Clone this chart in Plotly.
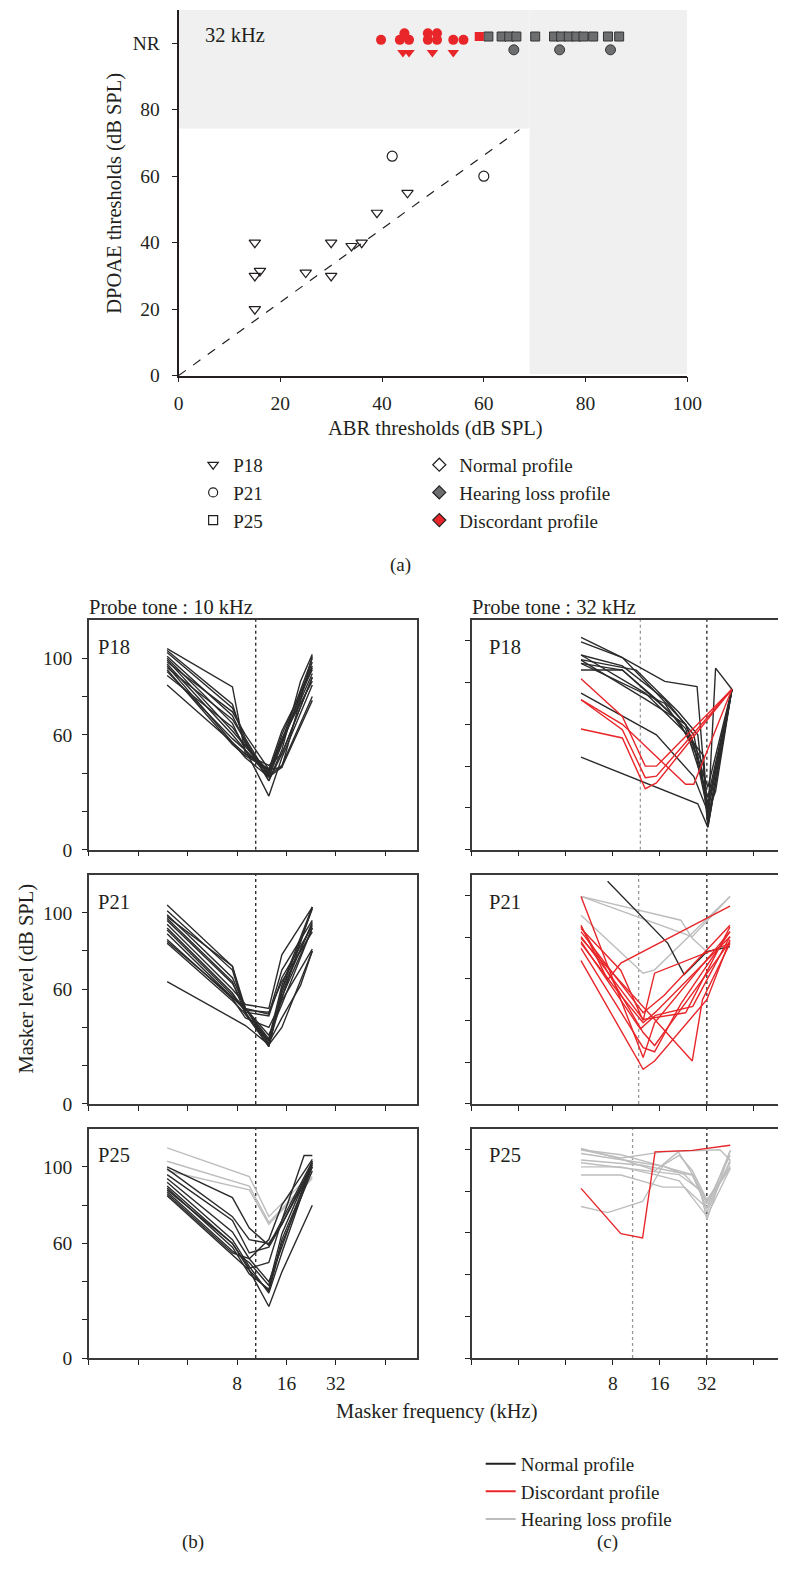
import plotly.graph_objects as go

W, H = 793, 1569
FONT = "Liberation Serif"
BLACK = "#231f20"
RED = "#e8262a"
HL_FILL = "#6d6e70"
HL_LINE = "#bdbdbd"
SHADE = "#eff0ef"

# ---------------- (a) DPOAE vs ABR thresholds at 32 kHz ----------------
A_XTICKS = [0, 20, 40, 60, 80, 100]
A_YTICKS = [0, 20, 40, 60, 80, 100]
A_YTICKTEXT = ["0", "20", "40", "60", "80", "NR"]

p18_normal_abr = [15, 15, 16, 15, 25, 30, 30, 34, 36, 39, 45]
p18_normal_dpoae = [40, 30, 31.5, 20, 31, 40, 30, 39, 40, 49, 55]
p21_normal_abr = [42, 60]
p21_normal_dpoae = [66, 60]

p21_disc_abr = [39.8, 43.5, 45.3, 49.0, 50.8, 54.0, 56.0, 44.4, 49.0, 50.8]
p21_disc_dpoae = [101, 101, 101, 101, 101, 101, 101, 103, 103, 103]
p18_disc_abr = [44.1, 45.3, 49.9, 54.0]
p18_disc_dpoae = [97.2, 97.2, 97.2, 97.2]
p25_disc_abr = [59.1]
p25_disc_dpoae = [102]
p25_hl_abr = [60.9, 63.5, 65.0, 66.4, 70.1, 73.8, 75.2, 76.7, 78.2, 79.6, 81.5, 84.4, 86.6]
p25_hl_dpoae = [102, 102, 102, 102, 102, 102, 102, 102, 102, 102, 102, 102, 102]
p21_hl_abr = [65.9, 74.9, 84.9]
p21_hl_dpoae = [98, 98, 98]

diag_abr = [0, 67]
diag_dpoae = [0, 74]
normal_zone_abr_max = 69
normal_zone_dpoae_max = 74.3
a_xmax, a_ymax = 100, 110

# ---------------- (b)/(c) masking tuning curves ----------------
F_TICKS = [1, 2, 4, 8, 16, 32, 64]
F_TICKTEXT = ["", "", "", "8", "16", "32", ""]
L_TICKS = [0, 20, 40, 60, 80, 100]
L_TICKTEXT_B = ["0", "", "", "60", "", "100"]
B_YMAX, C_YMAX = 120, 110

probe_b = 10.4
probe_c = 32
ref_c = [12, 11.7, 10.7]

# Panel (b) masker frequencies (kHz)
F_B = [3, 7.5, 9, 12.5, 15, 19.5, 23]
F_B25 = [3, 7.5, 9.5, 12.5, 15, 20.5, 23]

b_p18 = [
    [105, 85, 50, 42, 43, None, 101],
    [104, 76, 55, 40, 57, None, 100],
    [103, 74, 58, 38, 55, None, 98],
    [101, 70, 56, 36, 52, 88, 102],
    [100, 66, 52, 40, 60, None, 96],
    [99, 62, 54, 41, 56, None, 95],
    [97, 60, 52, 38, 56, None, 92],
    [96, 56, 50, 44, 50, None, 90],
    [94, 55, 49, 42, 58, None, 88],
    [93, 58, 52, 28, 48, None, 86],
    [91, 64, 54, 39, 44, None, 80],
    [86, 56, 48, 38, 43, None, 78],
    [98, 72, 60, 42, 62, None, 94],
    [95, 68, 57, 36, 50, None, 90],
]
b_p18_prof = ["N"] * 14

b_p21 = [
    [104, 72, 50, 31, 55, None, 103],
    [101, 70, 48, 30, 60, None, 102],
    [99, 66, 50, 34, 62, None, 103],
    [97, 64, 47, 33, 58, None, 95],
    [96, 63, 50, 47, 70, None, 96],
    [94, 60, 52, 50, 78, None, 103],
    [92, 58, 48, 46, 66, None, 93],
    [91, 57, 50, 36, 52, None, 92],
    [89, 56, 49, 48, 64, None, 90],
    [86, 55, 45, 40, 54, None, 81],
    [84, 54, 47, 32, 45, 62, 80],
    [64, None, 41, 31, 40, None, 80],
    [85, 56, 50, 33, 56, None, 92],
    [98, 72, 47, 30, 60, None, 94],
]
b_p21_prof = ["N"] * 14

b_p25 = [
    [110, None, 95, 74, None, None, 97],
    [103, None, 90, 71, None, None, 95],
    [98, None, 88, 70, None, None, 94],
    [100, 84, 68, 59, 72, None, 103],
    [99, 74, 62, 60, 70, None, 102],
    [96, 72, 55, 58, 70, None, 100],
    [94, 66, 52, 40, 58, None, 103],
    [92, 62, 48, 34, 55, None, 101],
    [90, 60, 46, 27, 45, None, 80],
    [89, 58, 44, 36, 62, None, 100],
    [87, 56, 50, 38, 65, None, 102],
    [86, 55, 52, 62, 80, None, 104],
    [85, 54, 46, 35, 60, None, 98],
    [88, 60, 47, 50, 72, 106, 106],
]
b_p25_prof = ["H", "H", "H"] + ["N"] * 11

# Panel (c): per-curve masker frequencies (kHz) and levels (dB SPL)
c_p18_freq = [
    [5, 9.2, 15.2, 23.4, 30.5, 32.5, 46.3],
    [5, 9.2, 17.2, 27.7, 32.5, 36.4, 46.3],
    [5, 9.2, 17.2, 26.4, 32.5, 46.3],
    [5, 11.3, 21, 28, 32.5, 46.3],
    [5, 9.2, 15.2, 23.4, 32.5, 46.3],
    [5, 9.2, 21, 27.7, 32.5, 46.3],
    [5, 12.9, 23.4, 30.5, 32.5, 46.3],
    [5, 15.2, 26.4, 32.5, 46.3],
    [5, 28, 32.5, 46.3],
    [5, 13, 23.4, 32.5, 46.3],
    [5, 17.2, 26.4, 32.5, 36.4, 46.3],
    [5, 9.2, 12.9, 15.2, 46.3],
    [5, 9.2, 12.9, 15.2, 46.3],
    [5, 9.2, 12.9, 15.2, 46.3],
    [5, 9.2, 23.4, 26.4, 46.3],
]
c_p18_level = [
    [101.6, 92, 75, 60, 40, 11, 76.8],
    [99.5, 92, 80.6, 78.1, 15, 86.9, 76.8],
    [93.2, 88, 72, 55, 20, 76.8],
    [91, 86, 66, 55, 12, 76.8],
    [89.2, 86, 72, 58, 25, 76.8],
    [86, 86, 62, 45, 22, 76.8],
    [93.2, 75, 56, 45, 14, 76.8],
    [75, 55, 35, 18, 76.8],
    [44.3, 22, 10.7, 76.8],
    [90.8, 72, 60, 30, 76.8],
    [89.2, 70, 50, 18, 28, 76.8],
    [81.8, 63.8, 40, 40, 76.8],
    [71.8, 57.5, 34.5, 35.2, 76.8],
    [57.8, 53.5, 29.2, 32, 76.8],
    [71.8, 60, 31.3, 31.3, 76.8],
]
c_p18_prof = ["N"] * 11 + ["D"] * 4

c_p21_freq = [
    [5, 21.8, 25.8, 32, 45],
    [5, 25.8, 45],
    [5, 12.5, 14.8, 45],
    [7.4, 18, 22.9, 32, 45],
    [5, 12.5, 14.8, 45],
    [5, 7.4, 9, 45],
    [5, 9, 12.5, 14.8, 45],
    [5, 12.5, 14.8, 32, 45],
    [5, 25.8, 30, 45],
    [5, 12, 15, 26, 45],
    [5, 12.5, 14.8, 21.8, 45],
    [5, 12.5, 17, 45],
    [5, 9, 12.5, 15, 45],
    [5, 12.5, 14.8, 45],
    [5, 7.5, 12.5, 23.4, 45],
]
c_p21_level = [
    [99.5, 88.1, 79.4, 73, 75.4],
    [99.5, 80.2, 99.5],
    [90.5, 62.7, 64.3, 99.5],
    [106.8, 77, 62, 73, 75.4],
    [99.5, 22.2, 38.9, 82.6],
    [85.7, 59.5, 67.5, 94.8],
    [84.1, 64, 40, 62.7, 77],
    [68.7, 16.6, 20.6, 50, 78.6],
    [79.4, 20.6, 50, 77],
    [77.8, 36, 42.5, 46.8, 80.2],
    [74.6, 27, 25, 48, 82.6],
    [82.6, 43.7, 52, 85.7],
    [77, 52, 38.9, 44, 80.2],
    [85, 34.2, 28, 77.8],
    [80.2, 62.7, 40.5, 43.7, 84.9],
]
c_p21_prof = ["H", "H", "H", "N"] + ["D"] * 11

c_p25_freq = [
    [5, 9, 14.9, 25.8, 32, 45.2],
    [5, 9, 16.8, 38.8, 45.2],
    [5, 9, 17, 23, 29, 32, 45.2],
    [5, 12.4, 21.3, 29, 32, 45.2],
    [5, 9, 14.9, 21.3, 32, 45.2],
    [5, 9, 16.8, 23, 32, 45.2],
    [5, 7.4, 12.4, 16.8, 21.3, 25.8, 32, 45.2],
    [5, 12.4, 19.8, 25.8, 32, 45.2],
    [5, 9, 15, 21, 26, 32, 45.2],
    [5, 9, 12.4, 14.9, 25.8, 32, 45.2],
]
c_p25_level = [
    [99.9, 97.5, 93, 88, 72, 99.6],
    [99.9, 96, 98.9, 99.9, 94.9],
    [98.1, 95, 92, 88, 80, 70, 94.9],
    [93.7, 90, 88, 80.6, 66.4, 99.6],
    [91.7, 91.7, 88, 85, 68, 90.9],
    [87.8, 87.8, 82, 82, 72, 94],
    [72.7, 69.8, 75.1, 92.5, 97.3, 90, 76, 92],
    [95, 92.5, 89.4, 87.8, 74, 97.3],
    [100.5, 95.5, 90, 98.9, 88, 75, 91],
    [81.4, 59.7, 57.6, 98.9, 99.6, 100.5, 102.1],
]
c_p25_prof = ["H"] * 9 + ["D"]

PROFILE_COLOR = {"N": "#2b2b2b", "D": RED, "H": HL_LINE}


def X(px):
    return px / W


def Y(py):
    return 1 - py / H


fig = go.Figure()

# ---- (a) traces ----
fig.add_trace(go.Scatter(x=diag_abr, y=diag_dpoae, mode="lines",
                         line=dict(color=BLACK, width=1.2, dash="dash"),
                         showlegend=False, hoverinfo="skip"))
fig.add_trace(go.Scatter(x=p18_normal_abr, y=p18_normal_dpoae, mode="markers",
                         marker=dict(symbol="triangle-down-open", size=10, color=BLACK, line=dict(width=1.2)),
                         showlegend=False))
fig.add_trace(go.Scatter(x=p21_normal_abr, y=p21_normal_dpoae, mode="markers",
                         marker=dict(symbol="circle-open", size=10, color=BLACK, line=dict(width=1.2)),
                         showlegend=False))
fig.add_trace(go.Scatter(x=p25_hl_abr, y=p25_hl_dpoae, mode="markers",
                         marker=dict(symbol="square", size=9, color=HL_FILL, line=dict(color="#333333", width=1)),
                         showlegend=False))
fig.add_trace(go.Scatter(x=p21_hl_abr, y=p21_hl_dpoae, mode="markers",
                         marker=dict(symbol="circle", size=10, color=HL_FILL, line=dict(color="#333333", width=1)),
                         showlegend=False))
fig.add_trace(go.Scatter(x=p21_disc_abr, y=p21_disc_dpoae, mode="markers",
                         marker=dict(symbol="circle", size=10, color=RED, line=dict(width=0)),
                         showlegend=False))
fig.add_trace(go.Scatter(x=p18_disc_abr, y=p18_disc_dpoae, mode="markers",
                         marker=dict(symbol="triangle-down", size=10, color=RED, line=dict(width=0)),
                         showlegend=False))
fig.add_trace(go.Scatter(x=p25_disc_abr, y=p25_disc_dpoae, mode="markers",
                         marker=dict(symbol="square", size=9, color=RED, line=dict(width=0)),
                         showlegend=False))

# legend entries (a)
for name, sym in [("P18", "triangle-down-open"), ("P21", "circle-open"), ("P25", "square-open")]:
    fig.add_trace(go.Scatter(x=[None], y=[None], mode="markers", name=name,
                             marker=dict(symbol=sym, size=9, color=BLACK, line=dict(width=1.2)),
                             legend="legend"))
for name, fill in [("Normal profile", "white"), ("Hearing loss profile", HL_FILL), ("Discordant profile", RED)]:
    fig.add_trace(go.Scatter(x=[None], y=[None], mode="markers", name=name,
                             marker=dict(symbol="diamond", size=10, color=fill, line=dict(color=BLACK, width=1.2)),
                             legend="legend2"))

# ---- (b)/(c) traces ----
def add_grid_curves(freqs, curves, profs, xa, ya):
    order = sorted(range(len(curves)), key=lambda i: {"H": 0, "N": 1, "D": 2}[profs[i]])
    for i in order:
        fig.add_trace(go.Scatter(x=freqs, y=curves[i], mode="lines", connectgaps=True,
                                 line=dict(color=PROFILE_COLOR[profs[i]], width=1.4),
                                 xaxis=xa, yaxis=ya, showlegend=False, hoverinfo="skip"))


def add_pair_curves(freqs, levels, profs, xa, ya):
    order = sorted(range(len(levels)), key=lambda i: {"H": 0, "N": 1, "D": 2}[profs[i]])
    for i in order:
        fig.add_trace(go.Scatter(x=freqs[i], y=levels[i], mode="lines",
                                 line=dict(color=PROFILE_COLOR[profs[i]], width=1.4),
                                 xaxis=xa, yaxis=ya, showlegend=False, hoverinfo="skip"))


def add_vline(f, ymax, color, xa, ya):
    fig.add_trace(go.Scatter(x=[f, f], y=[0, ymax], mode="lines",
                             line=dict(color=color, width=1.3, dash="dot"),
                             xaxis=xa, yaxis=ya, showlegend=False, hoverinfo="skip"))


for k, (curves, profs, freqs) in enumerate([(b_p18, b_p18_prof, F_B), (b_p21, b_p21_prof, F_B),
                                            (b_p25, b_p25_prof, F_B25)]):
    xa, ya = f"x{k + 2}", f"y{k + 2}"
    add_vline(probe_b, B_YMAX, BLACK, xa, ya)
    add_grid_curves(freqs, curves, profs, xa, ya)

for k, (fr, lv, profs) in enumerate([(c_p18_freq, c_p18_level, c_p18_prof),
                                     (c_p21_freq, c_p21_level, c_p21_prof),
                                     (c_p25_freq, c_p25_level, c_p25_prof)]):
    xa, ya = f"x{k + 5}", f"y{k + 5}"
    add_vline(ref_c[k], C_YMAX, "#9a9a9a", xa, ya)
    add_vline(probe_c, C_YMAX, BLACK, xa, ya)
    add_pair_curves(fr, lv, profs, xa, ya)

for name, col in [("Normal profile", BLACK), ("Discordant profile", RED), ("Hearing loss profile", HL_LINE)]:
    fig.add_trace(go.Scatter(x=[None], y=[None], mode="lines", name=name,
                             line=dict(color=col, width=2), legend="legend3",
                             xaxis="x2", yaxis="y2"))

# ---- layout ----
tickfont = dict(family=FONT, size=19.5, color=BLACK)
LEG_FONT = dict(family=FONT, size=19, color=BLACK)
layout = dict(
    width=W, height=H, margin=dict(l=0, r=0, t=0, b=0),
    paper_bgcolor="white", plot_bgcolor="rgba(0,0,0,0)",
    font=dict(family=FONT, size=19, color=BLACK),
    xaxis=dict(domain=[X(178), X(700)], range=[0, a_xmax], anchor="y",
               showline=True, linecolor=BLACK, linewidth=1.5, ticks="outside", ticklen=5,
               tickwidth=1.2, tickcolor=BLACK, tickvals=A_XTICKS, showgrid=False, zeroline=False,
               tickfont=tickfont, ticklabelstandoff=4),
    yaxis=dict(domain=[Y(378.3), Y(10)], range=[0, a_ymax], anchor="x",
               showline=True, linecolor=BLACK, linewidth=1.5, ticks="outside", ticklen=5,
               tickwidth=1.2, tickcolor=BLACK, tickvals=A_YTICKS, ticktext=A_YTICKTEXT,
               showgrid=False, zeroline=False, tickfont=tickfont, ticklabelstandoff=8),
    shapes=[
        dict(type="rect", xref="x", yref="y", x0=normal_zone_abr_max, x1=a_xmax, y0=0.5, y1=a_ymax,
             fillcolor=SHADE, line=dict(width=0), layer="below"),
        dict(type="rect", xref="x", yref="y", x0=0, x1=normal_zone_abr_max, y0=normal_zone_dpoae_max,
             y1=a_ymax, fillcolor=SHADE, line=dict(width=0), layer="below"),
    ],
    legend=dict(x=X(193), y=Y(449), xanchor="left", yanchor="top", bgcolor="rgba(0,0,0,0)",
                font=LEG_FONT, tracegroupgap=0),
    legend2=dict(x=X(425), y=Y(449), xanchor="left", yanchor="top", bgcolor="rgba(0,0,0,0)",
                 font=LEG_FONT, tracegroupgap=0),
    legend3=dict(x=X(488), y=Y(1455), xanchor="left", yanchor="top", bgcolor="rgba(0,0,0,0)",
                 font=LEG_FONT, tracegroupgap=0),
)

row_dom = [[Y(855.7), Y(624.3)], [Y(1111.7), Y(880.7)], [Y(1367.7), Y(1136.7)]]
for k in range(3):
    common_x = dict(type="log", showline=True, linecolor="#3a3a3a", linewidth=1.5, mirror=True,
                    ticks="outside", ticklen=5, tickwidth=1.2, tickcolor=BLACK, tickvals=F_TICKS,
                    ticktext=F_TICKTEXT if k == 2 else [""] * 7, showgrid=False, zeroline=False,
                    tickfont=tickfont, ticklabelstandoff=2)
    layout[f"xaxis{k + 2}"] = dict(common_x, domain=[X(86), X(422.7)], range=[0, 2], anchor=f"y{k + 2}")
    layout[f"yaxis{k + 2}"] = dict(domain=row_dom[k], range=[0, B_YMAX], anchor=f"x{k + 2}",
                                   showline=True, linecolor="#3a3a3a", linewidth=1.5, mirror=True,
                                   ticks="outside", ticklen=5, tickwidth=1.2, tickcolor=BLACK,
                                   tickvals=L_TICKS, ticktext=L_TICKTEXT_B, showgrid=False,
                                   zeroline=False, tickfont=tickfont, ticklabelstandoff=6)
    layout[f"xaxis{k + 5}"] = dict(common_x, domain=[X(479), 1.0], range=[0, 1.961], anchor=f"y{k + 5}")
    layout[f"yaxis{k + 5}"] = dict(domain=row_dom[k], range=[0, C_YMAX], anchor=f"x{k + 5}",
                                   showline=True, linecolor="#3a3a3a", linewidth=1.5, mirror=False,
                                   ticks="outside", ticklen=5, tickwidth=1.2, tickcolor=BLACK,
                                   tickvals=L_TICKS, showticklabels=False, showgrid=False,
                                   zeroline=False)


def ann(text, x, y, xanchor="center", angle=0, size=20.5):
    return dict(text=text, x=X(x), y=Y(y), xref="paper", yref="paper", showarrow=False,
                xanchor=xanchor, yanchor="middle", textangle=angle,
                font=dict(family=FONT, size=size, color=BLACK))


layout["annotations"] = [
    ann("32 kHz", 203, 35, "left"),
    ann("ABR thresholds (dB SPL)", 442, 432),
    ann("DPOAE thresholds (dB SPL)", 112, 195, angle=-90),
    ann("(a)", 406, 569, size=19),
    ann("Probe tone : 10 kHz", 84, 611, "left"),
    ann("Probe tone : 32 kHz", 477, 611, "left"),
    ann("P18", 93, 652, "left"), ann("P21", 93, 908, "left"), ann("P25", 93, 1163, "left"),
    ann("P18", 494, 652, "left"), ann("P21", 494, 908, "left"), ann("P25", 494, 1163, "left"),
    ann("Masker level (dB SPL)", 22, 985, angle=-90),
    ann("Masker frequency (kHz)", 443, 1421),
    ann("(b)", 193, 1553, size=19),
    ann("(c)", 618, 1553, size=19),
]

fig.update_layout(**layout)
fig.write_html("out.html")
